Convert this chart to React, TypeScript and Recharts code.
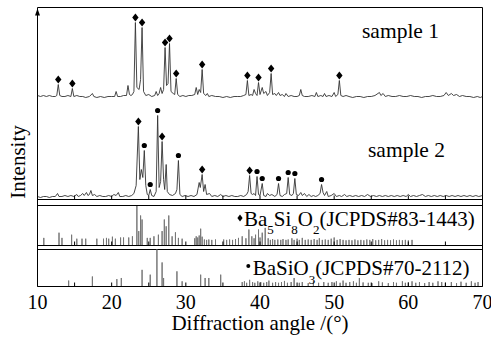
import React from 'react';
import { ComposedChart, Line, Scatter, XAxis, YAxis, ReferenceLine } from 'recharts';

const FONT = '"Liberation Serif", "Times New Roman", serif';
const W = 491;
const H = 339;
const LEFT = 37.5;
const RIGHT = 482.5;
const TOP = 7.5;
const MAIN_BOTTOM = 199.5;
const REF1_TOP = 205.5;
const REF1_BOTTOM = 245.5;
const REF2_TOP = 249.5;
const BOTTOM = 286.5;
const AX = 1; // axis band size (recharts skips axes of zero size)

const angleTicks = [10, 15, 20, 25, 30, 35, 40, 45, 50, 55, 60, 65, 70];

// [2theta, intensity]
const sample1: [number, number][] = [
  [10, 4], [10.4, 3], [10.8, 4], [11.2, 3], [11.6, 4], [12.0, 3], [12.4, 3], [12.6, 4], [12.8, 15], [13.0, 4],
  [13.3, 3], [13.7, 3], [14.1, 4], [14.5, 3], [14.7, 11], [14.9, 3], [15.3, 4], [15.7, 3], [16.1, 3], [16.5, 2],
  [17.0, 3], [17.4, 6], [17.6, 3], [18.0, 2], [18.5, 3], [19.0, 2], [19.5, 3], [20.0, 3], [20.4, 3], [20.6, 8],
  [20.8, 3], [21.2, 3], [21.6, 4], [22.0, 4], [22.2, 14], [22.4, 5], [22.6, 4], [22.8, 5], [23.0, 8], [23.2, 77],
  [23.4, 12], [23.7, 10], [23.9, 20], [24.1, 72], [24.3, 8], [24.6, 4], [25.0, 5], [25.4, 3], [25.8, 4], [26.0, 8],
  [26.2, 4], [26.4, 6], [26.6, 12], [26.8, 6], [27.0, 10], [27.2, 52], [27.4, 14], [27.6, 16], [27.8, 56], [28.0, 8],
  [28.3, 6], [28.5, 5], [28.7, 21], [28.9, 5], [29.2, 3], [29.6, 4], [30.0, 3], [30.4, 4], [30.8, 4], [31.2, 5],
  [31.4, 12], [31.6, 5], [31.8, 10], [32.0, 7], [32.2, 30], [32.4, 6], [32.7, 4], [32.9, 6], [33.1, 3], [33.5, 4],
  [34.0, 3], [34.5, 3], [35.0, 2], [35.5, 3], [36.0, 2], [36.5, 3], [37.0, 3], [37.4, 3], [37.8, 4], [38.1, 5],
  [38.3, 19], [38.5, 4], [38.8, 5], [39.0, 4], [39.2, 10], [39.4, 6], [39.6, 4], [39.8, 17], [40.0, 5], [40.3, 12],
  [40.5, 6], [40.8, 8], [41.0, 4], [41.3, 7], [41.5, 26], [41.7, 5], [42.0, 6], [42.2, 4], [42.5, 7], [42.7, 4],
  [43.0, 5], [43.3, 3], [43.5, 6], [43.8, 3], [44.2, 4], [44.6, 3], [45.0, 3], [45.3, 4], [45.5, 10], [45.7, 4],
  [46.0, 3], [46.5, 3], [47.0, 4], [47.4, 3], [47.6, 7], [47.8, 3], [48.2, 4], [48.5, 3], [48.7, 6], [48.9, 3],
  [49.3, 4], [49.7, 3], [50.0, 7], [50.2, 3], [50.5, 5], [50.7, 19], [50.9, 4], [51.2, 3], [51.6, 4], [52.0, 3],
  [52.5, 2], [53.0, 3], [53.5, 3], [54.0, 2], [54.5, 3], [55.0, 3], [55.5, 4], [56.1, 7], [56.3, 4], [56.6, 6],
  [56.9, 3], [57.3, 4], [57.8, 3], [58.3, 3], [58.8, 4], [59.3, 3], [59.8, 3], [60.3, 4], [60.8, 3], [61.3, 3],
  [61.8, 2], [62.3, 3], [62.8, 3], [63.3, 4], [63.8, 3], [64.3, 3], [64.8, 4], [65.1, 7], [65.4, 4], [65.8, 6],
  [66.1, 4], [66.5, 5], [66.9, 3], [67.3, 4], [67.8, 3], [68.3, 3], [68.8, 2], [69.3, 3], [69.7, 2], [70, 3],
];

const sample2: [number, number][] = [
  [10, 3], [10.4, 2], [10.8, 3], [11.2, 3], [11.6, 2], [12.0, 3], [12.4, 3], [12.7, 6], [12.9, 3], [13.3, 3],
  [13.7, 4], [14.1, 3], [14.5, 4], [14.9, 3], [15.3, 5], [15.5, 3], [15.8, 4], [16.1, 6], [16.3, 4], [16.6, 7],
  [16.8, 4], [17.0, 5], [17.2, 9], [17.4, 4], [17.7, 5], [18.0, 3], [18.4, 4], [18.8, 3], [19.2, 3], [19.6, 4],
  [20.0, 3], [20.3, 5], [20.6, 4], [20.9, 7], [21.1, 3], [21.5, 3], [21.9, 4], [22.3, 3], [22.7, 4], [23.0, 6],
  [23.3, 14], [23.6, 73], [23.8, 20], [24.0, 30], [24.2, 22], [24.4, 49], [24.6, 14], [24.8, 5], [25.0, 4], [25.2, 10],
  [25.4, 4], [25.7, 3], [26.0, 8], [26.2, 84], [26.4, 12], [26.6, 18], [26.8, 58], [27.0, 20], [27.15, 10], [27.35, 35],
  [27.5, 8], [27.8, 5], [28.2, 4], [28.6, 6], [28.8, 10], [29.0, 39], [29.2, 5], [29.5, 3], [29.9, 4], [30.3, 3],
  [30.7, 4], [31.1, 3], [31.5, 5], [31.8, 17], [31.95, 12], [32.2, 25], [32.4, 8], [32.6, 15], [32.8, 5], [33.2, 6],
  [33.5, 3], [33.9, 4], [34.3, 3], [34.7, 5], [35.0, 3], [35.4, 4], [35.8, 3], [36.2, 4], [36.6, 3], [37.0, 3],
  [37.4, 4], [37.8, 3], [38.2, 5], [38.4, 8], [38.6, 24], [38.8, 6], [39.0, 5], [39.2, 6], [39.4, 4], [39.6, 23],
  [39.8, 5], [40.0, 4], [40.3, 16], [40.5, 4], [40.8, 3], [41.0, 6], [41.3, 4], [41.6, 5], [42.0, 3], [42.3, 5],
  [42.5, 16], [42.7, 4], [43.0, 3], [43.3, 5], [43.6, 6], [43.8, 22], [44.0, 5], [44.3, 4], [44.5, 6], [44.7, 21],
  [44.9, 5], [45.2, 4], [45.5, 7], [45.7, 4], [46.0, 6], [46.3, 3], [46.6, 5], [46.9, 3], [47.2, 4], [47.5, 3],
  [47.8, 4], [48.1, 6], [48.3, 15], [48.5, 7], [48.7, 4], [49.0, 8], [49.2, 3], [49.6, 4], [50.0, 6], [50.3, 3],
  [50.7, 4], [51.0, 3], [51.4, 5], [51.7, 3], [52.1, 4], [52.5, 3], [52.9, 4], [53.3, 3], [53.7, 4], [54.1, 3],
  [54.5, 5], [54.9, 3], [55.3, 4], [55.7, 3], [56.1, 4], [56.5, 3], [56.9, 4], [57.3, 3], [57.7, 4], [58.1, 3],
  [58.5, 4], [58.9, 3], [59.3, 4], [59.7, 3], [60.0, 5], [60.3, 3], [60.7, 4], [61.1, 3], [61.5, 4], [61.9, 5],
  [62.3, 3], [62.7, 4], [63.1, 3], [63.5, 4], [63.9, 3], [64.3, 4], [64.7, 3], [65.1, 4], [65.5, 3], [65.9, 4],
  [66.3, 3], [66.7, 4], [67.1, 3], [67.5, 4], [67.9, 3], [68.3, 4], [68.7, 3], [69.1, 4], [69.5, 3], [70, 4],
];

// phase markers [2theta, peak intensity]
const sample1Diamonds: [number, number][] = [
  [12.8, 15], [14.7, 11], [23.2, 77], [24.1, 72], [27.2, 52], [27.8, 56],
  [28.7, 21], [32.2, 30], [38.3, 19], [39.8, 17], [41.5, 26], [50.7, 19],
];
const sample2Diamonds: [number, number][] = [[23.6, 73], [26.8, 58], [32.2, 25], [38.6, 24]];
const sample2Circles: [number, number][] = [
  [24.4, 49], [25.2, 10], [26.2, 84], [29.0, 39], [39.6, 23],
  [40.3, 16], [42.5, 16], [43.8, 22], [44.7, 21], [48.3, 15],
];

// reference cards [2theta, relative intensity]
const ba5Si8O21Sticks: [number, number][] = [
  [10.85, 19], [12.9, 32], [13.3, 19], [14.6, 27], [15.3, 17], [16.0, 17], [16.5, 17], [18.0, 17], [18.9, 17], [19.3, 19],
  [19.6, 17], [20.1, 22], [20.5, 17], [21.2, 20], [21.6, 20], [22.3, 20], [22.8, 23], [23.4, 100], [23.65, 36], [23.9, 75],
  [24.1, 65], [24.8, 19], [25.2, 19], [25.7, 23], [26.3, 27], [26.8, 36], [27.1, 65], [27.35, 48], [27.7, 75], [28.15, 23],
  [28.6, 33], [29.0, 19], [29.5, 17], [31.2, 18], [31.4, 23], [31.6, 20], [31.8, 25], [32.0, 42], [32.2, 22], [32.5, 15],
  [32.8, 14], [33.1, 15], [33.5, 14], [34.0, 15], [35.1, 15], [35.5, 14], [35.9, 15], [36.3, 14], [36.7, 16], [37.1, 19],
  [37.6, 23], [38.1, 18], [38.5, 40], [38.9, 23], [39.2, 18], [39.4, 27], [39.8, 40], [40.0, 20], [40.3, 32], [40.7, 44],
  [41.1, 18], [41.4, 14], [41.7, 16], [42.0, 14], [42.4, 15], [42.8, 14], [43.1, 16], [43.5, 14], [43.8, 15], [44.3, 18],
  [44.6, 14], [45.0, 17], [45.3, 14], [45.7, 19], [46.1, 14], [46.5, 15], [46.9, 14], [47.3, 16], [47.7, 14], [48.0, 18],
  [48.4, 14], [48.8, 15], [49.2, 14], [49.6, 17], [50.0, 20], [50.4, 14], [50.8, 16], [51.2, 14], [51.6, 13], [52.0, 14],
  [52.4, 13], [52.8, 15], [53.2, 13], [53.6, 14], [54.0, 13], [54.4, 15], [54.8, 14], [55.2, 16], [55.6, 13], [56.0, 14],
  [56.4, 16], [56.8, 13], [57.2, 14], [57.6, 13], [58.0, 15], [58.4, 13], [58.8, 14], [59.2, 13], [59.6, 14], [60.0, 13],
  [60.5, 14],
];

const baSiO3Sticks: [number, number][] = [
  [14.2, 16], [17.4, 27], [20.7, 20], [21.3, 23], [24.1, 45], [25.2, 32], [26.1, 100], [26.8, 65], [27.0, 23], [28.8, 41],
  [29.5, 14], [32.0, 32], [32.6, 23], [33.1, 23], [34.7, 32], [37.6, 12], [37.9, 14], [38.2, 10], [38.6, 18], [39.0, 12],
  [39.3, 10], [39.7, 14], [40.1, 12], [40.5, 10], [40.9, 12], [41.2, 16], [41.7, 10], [42.1, 12], [42.5, 10], [42.9, 12],
  [43.3, 15], [43.7, 10], [44.2, 12], [44.6, 23], [45.3, 10], [45.7, 12], [46.5, 9], [47.2, 14], [47.9, 10], [48.6, 12],
  [49.2, 10], [49.7, 12], [50.3, 14], [50.8, 10], [51.2, 16], [51.6, 10], [52.1, 12], [52.6, 14], [53.0, 10], [53.4, 23],
  [53.9, 11], [54.6, 10], [55.1, 9], [56.0, 14], [56.5, 11], [57.3, 9], [58.0, 12], [58.4, 10], [59.2, 14], [59.6, 10],
  [60.0, 11], [60.5, 14], [61.0, 10], [61.5, 12], [62.2, 9], [62.8, 12], [63.3, 10], [64.0, 14], [64.5, 12], [65.0, 10],
  [65.8, 12], [66.5, 9], [67.1, 13], [67.8, 10], [68.5, 14], [69.0, 10], [69.4, 12],
];

const SAMPLE1_OFFSET = 100;
const MARK_GAP = 5;
const MAIN_MAX = MAIN_BOTTOM - TOP;
const C_MAX = (100 * (BOTTOM - TOP)) / (BOTTOM - REF2_TOP);

const toPoints = (list: [number, number][], shift = 0) => list.map(([a, v]) => ({ a, v: v + shift }));
const toSticks = (list: [number, number][]) =>
  list.flatMap(([a, h]) => [{ a, v: 0 }, { a, v: h }, { a, v: 0 }]);

const s1 = toPoints(sample1, SAMPLE1_OFFSET);
const s2 = toPoints(sample2);
const s1Diamonds = toPoints(sample1Diamonds, SAMPLE1_OFFSET + MARK_GAP);
const s2Diamonds = toPoints(sample2Diamonds, MARK_GAP);
const s2Circles = toPoints(sample2Circles, MARK_GAP);
const ref1 = toSticks(ba5Si8O21Sticks);
const ref2 = toSticks(baSiO3Sticks);

const Diamond = (props: any) => {
  const { cx, cy } = props;
  return <path d={`M${cx},${cy - 4} L${cx + 3.2},${cy} L${cx},${cy + 4} L${cx - 3.2},${cy} Z`} fill="#000" />;
};
const Dot = (props: any) => <circle cx={props.cx} cy={props.cy} r={2.6} fill="#000" />;

const inwardTick = (withLabels: boolean) => (props: any) => {
  const { x, y, payload } = props;
  return (
    <g>
      <line x1={x} x2={x} y1={y} y2={y - 4} stroke="#000" strokeWidth={1} />
      {withLabels && payload.value % 10 === 0 ? (
        <text x={x} y={y + 22.5} textAnchor="middle" fontFamily={FONT} fontSize={20} fill="#000">
          {payload.value}
        </text>
      ) : null}
    </g>
  );
};

// bottom axis line sits on the plot bottom, drawn over the band height AX
const margins = (top: number, bottom: number, topAxis: boolean, sideAxes: boolean) => ({
  top: top - (topAxis ? AX : 0),
  bottom: H - bottom - AX,
  left: LEFT - (sideAxes ? AX : 0),
  right: W - RIGHT - (sideAxes ? AX : 0),
});

const layer: React.CSSProperties = { position: 'absolute', left: 0, top: 0 };
const axisLine = { stroke: '#000', strokeWidth: 1 };

export default function App() {
  return (
    <div style={{ position: 'fixed', left: 0, top: 0, width: W, height: H, background: '#fff' }}>
      {/* frame + BaSiO3 card */}
      <div style={layer}>
        <ComposedChart width={W} height={H} margin={margins(TOP, BOTTOM, true, true)}>
          <XAxis type="number" dataKey="a" domain={[10, 70]} allowDataOverflow ticks={angleTicks} interval={0}
            height={AX} tickSize={0} tickMargin={0} tickLine={false} tick={inwardTick(true)} axisLine={axisLine} />
          <XAxis xAxisId="top" orientation="top" type="number" domain={[10, 70]} allowDataOverflow height={AX}
            tick={false} tickLine={false} axisLine={axisLine} />
          <YAxis type="number" dataKey="v" domain={[0, C_MAX]} allowDataOverflow width={AX} tick={false}
            tickLine={false} axisLine={axisLine} />
          <YAxis yAxisId="r" orientation="right" type="number" domain={[0, 1]} allowDataOverflow width={AX}
            tick={false} tickLine={false} axisLine={axisLine} />
          <ReferenceLine y={100} stroke="#000" />
          <Line data={ref2} dataKey="v" stroke="#777" strokeWidth={1} dot={false} activeDot={false} isAnimationActive={false} />
        </ComposedChart>
      </div>

      {/* Ba5Si8O21 card */}
      <div style={layer}>
        <ComposedChart width={W} height={H} margin={margins(REF1_TOP, REF1_BOTTOM, true, false)}>
          <XAxis type="number" dataKey="a" domain={[10, 70]} allowDataOverflow ticks={angleTicks} interval={0}
            height={AX} tickSize={0} tickMargin={0} tickLine={false} tick={inwardTick(false)} axisLine={axisLine} />
          <XAxis xAxisId="top" orientation="top" type="number" domain={[10, 70]} allowDataOverflow height={AX}
            tick={false} tickLine={false} axisLine={axisLine} />
          <YAxis type="number" dataKey="v" domain={[0, 100]} allowDataOverflow hide />
          <Line data={ref1} dataKey="v" stroke="#777" strokeWidth={1} dot={false} activeDot={false} isAnimationActive={false} />
        </ComposedChart>
      </div>

      {/* measured patterns */}
      <div style={layer}>
        <ComposedChart width={W} height={H} margin={margins(TOP, MAIN_BOTTOM, false, false)}>
          <XAxis type="number" dataKey="a" domain={[10, 70]} allowDataOverflow ticks={angleTicks} interval={0}
            height={AX} tickSize={0} tickMargin={0} tickLine={false} tick={inwardTick(false)} axisLine={axisLine} />
          <YAxis type="number" dataKey="v" domain={[0, MAIN_MAX]} allowDataOverflow hide />
          <Line data={s1} dataKey="v" stroke="#333" strokeWidth={0.9} dot={false} activeDot={false} isAnimationActive={false} />
          <Line data={s2} dataKey="v" stroke="#333" strokeWidth={0.9} dot={false} activeDot={false} isAnimationActive={false} />
          <Scatter data={s1Diamonds} dataKey="v" shape={Diamond} isAnimationActive={false} />
          <Scatter data={s2Diamonds} dataKey="v" shape={Diamond} isAnimationActive={false} />
          <Scatter data={s2Circles} dataKey="v" shape={Dot} isAnimationActive={false} />
        </ComposedChart>
      </div>

      {/* titles and annotations */}
      <svg width={W} height={H} style={{ ...layer, pointerEvents: 'none' }} fontFamily={FONT} fill="#000">
        <path d="M37.5,8.5 L40,15.5 L35,15.5 Z" fill="#000" />
        <text transform="translate(25,162) rotate(-90)" textAnchor="middle" fontSize={21}>Intensity</text>
        <text x={260} y={330} textAnchor="middle" fontSize={21}>Diffraction angle /(°)</text>
        <text x={362} y={38} fontSize={21.5}>sample 1</text>
        <text x={368} y={157} fontSize={21.5}>sample 2</text>
        <path d="M240,214.5 L242.6,218 L240,221.5 L237.4,218 Z" fill="#000" />
        <text x={244} y={226.3} fontSize={21}>
          Ba<tspan dy={8} fontSize={13}>5</tspan>
          <tspan dy={-8}>Si</tspan><tspan dy={8} fontSize={13}>8</tspan>
          <tspan dy={-8}>O</tspan><tspan dy={8} fontSize={13}>2</tspan>
          <tspan dy={-8}>(JCPDS#83-1443)</tspan>
        </text>
        <circle cx={248.3} cy={266} r={2} fill="#000" />
        <text x={252.7} y={274.7} fontSize={21}>
          BaSiO<tspan dy={9} fontSize={13}>3</tspan>
          <tspan dy={-9}>(JCPDS#70-2112)</tspan>
        </text>
      </svg>
    </div>
  );
}
